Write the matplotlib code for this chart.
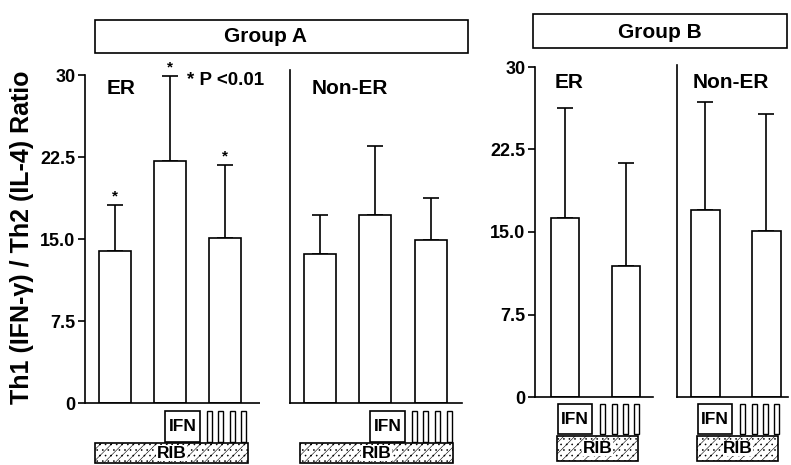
import matplotlib
matplotlib.use("Agg")
import matplotlib.pyplot as plt
import matplotlib.transforms as mtransforms
from matplotlib.patches import Rectangle

plt.rcParams['font.family'] = ['Liberation Sans', 'DejaVu Sans']
plt.rcParams['font.weight'] = 'bold'
plt.rcParams['hatch.linewidth'] = 0.4
plt.rcParams['hatch.color'] = '#aaaaaa'

# --- data ---
a_er_means = [13.9, 22.1, 15.1]
a_er_tops = [18.1, 29.9, 21.8]
a_non_means = [13.6, 17.2, 14.9]
a_non_tops = [17.2, 23.5, 18.8]
b_er_means = [16.3, 11.9]
b_er_tops = [26.3, 21.3]
b_non_means = [17.0, 15.1]
b_non_tops = [26.8, 25.7]

yticks = [0, 7.5, 15, 22.5, 30]
ytick_labels = ["0", "7.5", "15.0", "22.5", "30"]

W, H = 791, 465
LW = 1.2


def fx(x):
    return x / W


def fy(y):
    return 1 - y / H


fig = plt.figure(figsize=(W / 100, H / 100), dpi=100)

# axes placed in pixel terms: y=0 baseline, 10.93 px per unit for A, 11 for B
axA = fig.add_axes([fx(85), fy(403), fx(470 - 85), 31.5 * 10.93 / H])
axB = fig.add_axes([fx(535), fy(397), fx(W - 535), 31.5 * 11.0 / H])


def style_axis(ax, xlim):
    ax.set_xlim(*xlim)
    ax.set_ylim(0, 31.5)
    for s in ['top', 'right', 'bottom']:
        ax.spines[s].set_visible(False)
    ax.spines['left'].set_bounds(0, 30)
    ax.spines['left'].set_linewidth(LW)
    ax.set_xticks([])
    ax.set_yticks(yticks)
    ax.set_yticklabels(ytick_labels, fontsize=13, fontweight='bold')
    ax.tick_params(axis='y', length=5, width=LW, pad=2)
    ax.patch.set_alpha(0)


def draw_bars(ax, pos, means, tops, width):
    errs = [t - m for t, m in zip(tops, means)]
    ax.bar(pos, means, width=width, color='white', edgecolor='black', linewidth=LW, zorder=2)
    ax.errorbar(pos, means, yerr=[[0] * len(means), errs], fmt='none', ecolor='black',
                elinewidth=LW, capsize=6, capthick=LW, zorder=1)


def draw_treatment(ax, x0, rel, y_ifn, y_rib):
    # x0: first bar position, rel: extents relative to it
    tr = mtransforms.blended_transform_factory(ax.transData, fig.transFigure)
    ifn_l, ifn_r = rel['ifn']
    y0, y1 = y_ifn
    ax.add_patch(Rectangle((x0 + ifn_l, fy(y1)), ifn_r - ifn_l, fy(y0) - fy(y1), transform=tr,
                           facecolor='white', edgecolor='black', linewidth=LW, clip_on=False))
    ax.text(x0 + (ifn_l + ifn_r) / 2, fy((y0 + y1) / 2), "IFN", transform=tr, ha='center',
            va='center', fontsize=12.5, fontweight='bold')
    for l, r in rel['sticks']:
        ax.add_patch(Rectangle((x0 + l, fy(y1)), r - l, fy(y0) - fy(y1), transform=tr,
                               facecolor='white', edgecolor='black', linewidth=1.0, clip_on=False))
    rib_l, rib_r = rel['rib']
    r0, r1 = y_rib
    ax.add_patch(Rectangle((x0 + rib_l, fy(r1)), rib_r - rib_l, fy(r0) - fy(r1), transform=tr,
                           facecolor='white', edgecolor='black', linewidth=LW, hatch='///...',
                           clip_on=False))
    ax.text(x0 + (rib_l + rib_r) / 2, fy((r0 + r1) / 2), "RIB", transform=tr, ha='center',
            va='center', fontsize=12.5, fontweight='bold',
            bbox=dict(facecolor='white', edgecolor='none', pad=0.3))


# ---- Group A ----
style_axis(axA, (-0.545, 6.4545))
posA_er = [0, 1, 2]
posA_non = [3.73, 4.73, 5.75]
draw_bars(axA, posA_er, a_er_means, a_er_tops, 0.58)
draw_bars(axA, posA_non, a_non_means, a_non_tops, 0.58)
axA.plot([-0.545, 2.64], [0, 0], color='black', lw=LW, clip_on=False, solid_capstyle='butt')
axA.plot([3.18, 6.31], [0, 0], color='black', lw=LW, clip_on=False)
axA.plot([3.18, 3.18], [0, 30.45], color='black', lw=LW, clip_on=False)
for p, t in zip(posA_er, a_er_tops):
    axA.annotate("*", (p, t), xytext=(0, 1), textcoords='offset points', ha='center',
                 va='bottom', fontsize=11, fontweight='bold')

relA = {'ifn': (0.909, 1.545),
        'sticks': [(1.667, 1.758), (1.873, 1.964), (2.091, 2.182), (2.30, 2.39)],
        'rib': (-0.364, 2.418)}
draw_treatment(axA, posA_er[0], relA, (410.5, 441.5), (443, 463))
draw_treatment(axA, posA_non[0], relA, (410.5, 441.5), (443, 463))

# ---- Group B ----
style_axis(axB, (-0.49, 3.705))
posB_er = [0, 1]
posB_non = [2.3, 3.3]
draw_bars(axB, posB_er, b_er_means, b_er_tops, 0.47)
draw_bars(axB, posB_non, b_non_means, b_non_tops, 0.47)
axB.plot([-0.49, 1.44], [0, 0], color='black', lw=LW, clip_on=False)
axB.plot([1.84, 3.66], [0, 0], color='black', lw=LW, clip_on=False)
axB.plot([1.84, 1.84], [0, 30.2], color='black', lw=LW, clip_on=False)

relB = {'ifn': (-0.115, 0.443),
        'sticks': [(0.574, 0.656), (0.766, 0.846), (0.951, 1.033), (1.131, 1.213)],
        'rib': (-0.131, 1.197)}
draw_treatment(axB, posB_er[0], relB, (404, 434), (436, 461))
draw_treatment(axB, posB_non[0], relB, (404, 434), (436, 461))

# ---- panel labels ----
fig.text(fx(121), fy(88), "ER", ha='center', va='center', fontsize=15, fontweight='bold')
fig.text(fx(226), fy(80), "* P <0.01", ha='center', va='center', fontsize=13.5, fontweight='bold')
fig.text(fx(350), fy(88), "Non-ER", ha='center', va='center', fontsize=15, fontweight='bold')
fig.text(fx(569), fy(83), "ER", ha='center', va='center', fontsize=15, fontweight='bold')
fig.text(fx(731), fy(82), "Non-ER", ha='center', va='center', fontsize=15, fontweight='bold')

# header boxes
fig.add_artist(Rectangle((fx(95), fy(53.5)), fx(468 - 95), (53.5 - 20.5) / H,
                         transform=fig.transFigure, facecolor='white', edgecolor='black', lw=LW))
fig.text(fx(265), fy(37), "Group A", ha='center', va='center', fontsize=15, fontweight='bold')
fig.add_artist(Rectangle((fx(533), fy(48)), fx(787 - 533), (48 - 14) / H,
                         transform=fig.transFigure, facecolor='white', edgecolor='black', lw=LW))
fig.text(fx(660), fy(32), "Group B", ha='center', va='center', fontsize=15, fontweight='bold')

fig.text(fx(22), fy(237), "Th1 (IFN-γ) / Th2 (IL-4) Ratio", rotation=90, ha='center',
         va='center', fontsize=18, fontweight='bold')

fig.savefig("out.png", dpi=100)
